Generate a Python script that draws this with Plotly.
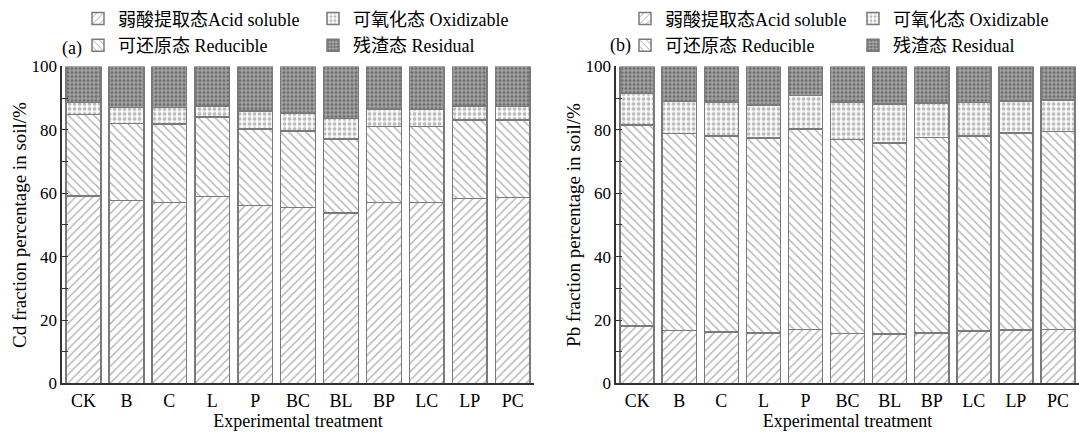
import plotly.graph_objects as go
from plotly.subplots import make_subplots

# Treatments
treatments = ["CK", "B", "C", "L", "P", "BC", "BL", "BP", "LC", "LP", "PC"]

# Cd fractions (% of total), per treatment
cd_acid = [59.2, 57.7, 57.1, 59.0, 56.2, 55.5, 53.8, 57.1, 57.1, 58.4, 58.6]
cd_reducible = [25.6, 24.3, 24.7, 25.0, 24.1, 24.1, 23.4, 24.0, 24.0, 24.8, 24.6]
cd_oxidizable = [3.9, 5.1, 5.3, 3.6, 5.6, 5.8, 6.4, 5.5, 5.3, 4.4, 4.2]
cd_residual = [11.3, 12.9, 12.9, 12.4, 14.1, 14.6, 16.4, 13.4, 13.6, 12.4, 12.6]

# Pb fractions (% of total), per treatment
pb_acid = [18.2, 16.7, 16.2, 16.0, 17.0, 15.7, 15.6, 16.0, 16.6, 16.8, 17.0]
pb_reducible = [63.3, 62.1, 61.8, 61.5, 63.3, 61.3, 60.3, 61.6, 61.5, 62.2, 62.5]
pb_oxidizable = [10.0, 10.1, 10.8, 10.3, 10.5, 11.8, 12.2, 10.9, 10.6, 10.1, 10.0]
pb_residual = [8.5, 11.1, 11.2, 12.2, 9.2, 11.2, 11.9, 11.5, 11.3, 10.9, 10.5]

fraction_names = ["弱酸提取态Acid soluble", "可还原态 Reducible",
                  "可氧化态 Oxidizable", "残渣态 Residual"]

FONT = "Liberation Serif, Times New Roman, Noto Sans CJK SC, serif"

patterns = [
    dict(shape="/", fgcolor="#555555", bgcolor="white", size=6, solidity=0.2),
    dict(shape="\\", fgcolor="#555555", bgcolor="white", size=6, solidity=0.2),
    dict(shape=".", fgcolor="#777777", bgcolor="white", size=5, solidity=0.45),
    dict(shape=".", fgcolor="#2e2e2e", bgcolor="#a8a8a8", size=4, solidity=0.5),
]

fig = make_subplots(rows=1, cols=2, horizontal_spacing=0.0)

panels = [
    (1, [cd_acid, cd_reducible, cd_oxidizable, cd_residual],
     ["legend", "legend2", "legend3", "legend4"]),
    (2, [pb_acid, pb_reducible, pb_oxidizable, pb_residual],
     ["legend5", "legend6", "legend7", "legend8"]),
]

for col, series, legends in panels:
    for name, vals, pat, lg in zip(fraction_names, series, patterns, legends):
        fig.add_trace(
            go.Bar(
                x=treatments, y=vals, name=name, legend=lg, showlegend=True,
                marker=dict(color="white", pattern=pat,
                            line=dict(color="#7a7a7a", width=1.5)),
            ),
            row=1, col=col,
        )

axis_common = dict(showline=True, linecolor="#333333", linewidth=1.5,
                   showgrid=False, zeroline=False, mirror=False,
                   automargin=False)

fig.update_xaxes(**axis_common, ticks="", range=[-0.5, 10.5],
                 tickfont=dict(family=FONT, size=18, color="black"),
                 title=dict(text="Experimental treatment",
                            font=dict(family=FONT, size=18, color="black"),
                            standoff=2))
fig.update_yaxes(**axis_common, range=[0, 100], dtick=20, ticks="inside",
                 ticklen=6, tickcolor="#333333",
                 tickfont=dict(family=FONT, size=17, color="black"),
                 minor=dict(dtick=10, ticks="inside", ticklen=6, tickcolor="#333333"))

fig.update_xaxes(domain=[0.0575, 0.495], row=1, col=1)
fig.update_xaxes(domain=[0.571, 1.0], row=1, col=2)
fig.update_yaxes(domain=[0.1195, 0.855])
fig.update_yaxes(title=dict(text="Cd fraction percentage in soil/%",
                            font=dict(family=FONT, size=19, color="black"),
                            standoff=0), row=1, col=1)
fig.update_yaxes(title=dict(text="Pb fraction percentage in soil/%",
                            font=dict(family=FONT, size=19, color="black"),
                            standoff=0), row=1, col=2)

W, H = 1079, 435
leg_font = dict(family=FONT, size=18, color="black")


def legend_at(px, py):
    return dict(x=px / W, y=1 - py / H, xanchor="left", yanchor="middle",
                bgcolor="rgba(0,0,0,0)", borderwidth=0, font=leg_font,
                orientation="v", itemwidth=30, tracegroupgap=0)


fig.update_layout(
    width=W, height=H,
    margin=dict(l=0, r=0, t=0, b=0),
    barmode="stack", bargap=0.19,
    showlegend=True,
    plot_bgcolor="white", paper_bgcolor="white",
    font=dict(family=FONT, size=18, color="black"),
    legend=legend_at(78, 15),
    legend2=legend_at(78, 42),
    legend3=legend_at(313, 15),
    legend4=legend_at(313, 42),
    legend5=legend_at(625, 15),
    legend6=legend_at(625, 42),
    legend7=legend_at(853, 15),
    legend8=legend_at(853, 42),
    annotations=[
        dict(text="(a)", x=60 / W, y=1 - 45 / H, xref="paper", yref="paper",
             xanchor="left", yanchor="middle", showarrow=False,
             font=dict(family=FONT, size=18, color="black")),
        dict(text="(b)", x=608 / W, y=1 - 42 / H, xref="paper", yref="paper",
             xanchor="left", yanchor="middle", showarrow=False,
             font=dict(family=FONT, size=18, color="black")),
    ],
)

fig.write_html("out.html")
